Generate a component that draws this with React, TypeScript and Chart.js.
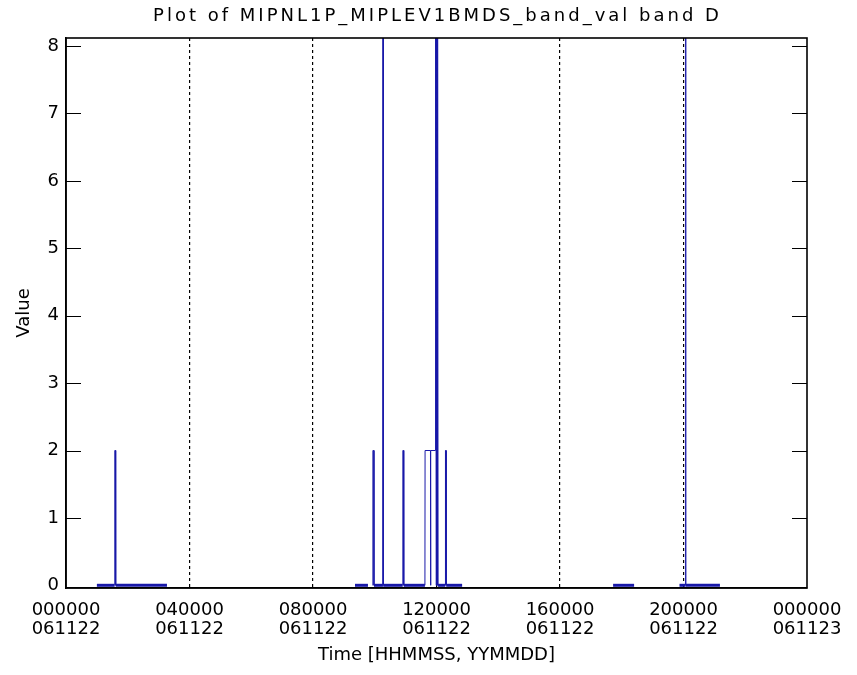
import React, { useEffect, useRef } from 'react';
import { Chart, registerables } from 'chart.js';

Chart.register(...registerables);

const TITLE = 'Plot of MIPNL1P_MIPLEV1BMDS_band_val band D';
const X_TITLE = 'Time [HHMMSS, YYMMDD]';
const Y_TITLE = 'Value';

const X_TICK_HOURS = [0, 4, 8, 12, 16, 20, 24];
const X_TICK_TIMES = ['000000', '040000', '080000', '120000', '160000', '200000', '000000'];
const X_TICK_DATES = ['061122', '061122', '061122', '061122', '061122', '061122', '061123'];
const Y_TICKS = [0, 1, 2, 3, 4, 5, 6, 7, 8];

// time in hours since 000000 061122; null value = data gap
const times: number[] = [
  1.0, 1.575, 1.58, 1.605, 1.61, 3.27, 3.3,
  9.36, 9.78, 9.8,
  9.935, 9.94, 9.97, 9.975, 10.265, 10.27, 10.275,
  10.905, 10.91, 10.935, 10.94,
  11.625, 11.63, 11.805, 11.81, 11.815, 11.965, 11.97, 11.99, 12.0, 12.01, 12.02, 12.03, 12.04, 12.05,
  12.285, 12.29, 12.31, 12.315, 12.83, 12.9,
  17.72, 18.4, 18.45,
  19.87, 20.065, 20.07, 20.075, 21.18,
];
const values: (number | null)[] = [
  0, 0, 2, 2, 0, 0, null,
  0, 0, null,
  0, 2, 2, 0, 0, 10, 0,
  0, 2, 2, 0,
  0, 2, 2, 0, 2, 2, 10, 0, 10, 0, 10, 0, 10, 0,
  0, 2, 2, 0, 0, null,
  0, 0, null,
  0, 0, 10, 0, 0,
];

const LINE_COLOR = '#1818a8';
const FONT = 'DejaVu Sans';

const framePlugin = {
  id: 'frameAndTicks',
  afterDatasetsDraw(chart: any) {
    const { ctx, chartArea, scales } = chart;
    const { left, right, top, bottom } = chartArea;
    const y = scales.y;
    ctx.save();
    ctx.strokeStyle = '#000';
    ctx.lineWidth = 1;
    Y_TICKS.forEach((v) => {
      if (v === 0) return;
      const py = Math.round(y.getPixelForValue(v)) + 0.5;
      ctx.beginPath();
      ctx.moveTo(left, py);
      ctx.lineTo(left + 15, py);
      ctx.moveTo(right - 15, py);
      ctx.lineTo(right, py);
      ctx.stroke();
    });
    ctx.lineWidth = 1.6;
    ctx.strokeRect(left, top, right - left, bottom - top);
    // title
    ctx.fillStyle = '#000';
    ctx.font = `18px "${FONT}"`;
    (ctx as any).letterSpacing = '3px';
    ctx.textAlign = 'center';
    ctx.textBaseline = 'middle';
    ctx.fillText(TITLE, (left + right) / 2 + 1, 16);
    (ctx as any).letterSpacing = '0px';
    ctx.restore();
  },
};

export default function App() {
  const ref = useRef<HTMLCanvasElement | null>(null);
  useEffect(() => {
    if (!ref.current) return;
    const data = times.map((t, i) => ({ x: t, y: values[i] }));
    const chart = new Chart(ref.current, {
      type: 'scatter',
      data: {
        datasets: [
          {
            data: data as any,
            showLine: true,
            borderColor: LINE_COLOR,
            backgroundColor: LINE_COLOR,
            borderWidth: 1,
            pointRadius: 0,
            spanGaps: false,
            segment: {
              borderWidth: (ctx: any) => (ctx.p0.parsed.y === 0 && ctx.p1.parsed.y === 0 ? 3 : 1),
            },
          } as any,
        ],
      },
      plugins: [framePlugin],
      options: {
        responsive: false,
        animation: false,
        events: [],
        layout: { padding: { top: 38, right: 50, left: 0, bottom: 0 } },
        plugins: { legend: { display: false }, tooltip: { enabled: false }, title: { display: false } },
        scales: {
          x: {
            type: 'linear',
            min: 0,
            max: 24,
            afterFit: (s: any) => { s.height = 87; },
            afterBuildTicks: (s: any) => { s.ticks = X_TICK_HOURS.map((v) => ({ value: v })); },
            ticks: {
              autoSkip: false,
              maxRotation: 0,
              padding: 13,
              color: '#000',
              font: { family: FONT, size: 18, lineHeight: 1.05 },
              callback: (v: any) => {
                const i = X_TICK_HOURS.indexOf(Number(v));
                return i >= 0 ? [X_TICK_TIMES[i], X_TICK_DATES[i]] : '';
              },
            },
            grid: {
              drawTicks: false,
              color: (c: any) => (c.tick && c.tick.value > 0 && c.tick.value < 24 ? '#000' : 'rgba(0,0,0,0)'),
              lineWidth: 1.2,
            },
            border: { display: true, color: '#000', width: 1.6, dash: [3, 3] },
            title: {
              display: true,
              text: X_TITLE,
              color: '#000',
              font: { family: FONT, size: 18 },
              padding: { top: 0, bottom: 9 },
            },
          },
          y: {
            type: 'linear',
            min: -0.04,
            max: 8.12,
            afterFit: (s: any) => { s.width = 66; },
            afterBuildTicks: (s: any) => { s.ticks = Y_TICKS.map((v) => ({ value: v })); },
            ticks: {
              padding: 7,
              color: '#000',
              font: { family: FONT, size: 18 },
              callback: (v: any) => String(v),
            },
            grid: { display: false, drawTicks: false },
            border: { display: true, color: '#000', width: 1.6 },
            title: {
              display: true,
              text: Y_TITLE,
              color: '#000',
              font: { family: FONT, size: 18 },
              padding: { top: 14, bottom: 0 },
            },
          },
        },
      },
    });
    return () => chart.destroy();
  }, []);
  return (
    <div style={{ position: 'absolute', left: 0, top: 0, width: 857, height: 675, background: '#fff' }}>
      <canvas ref={ref} width={857} height={675} />
    </div>
  );
}
